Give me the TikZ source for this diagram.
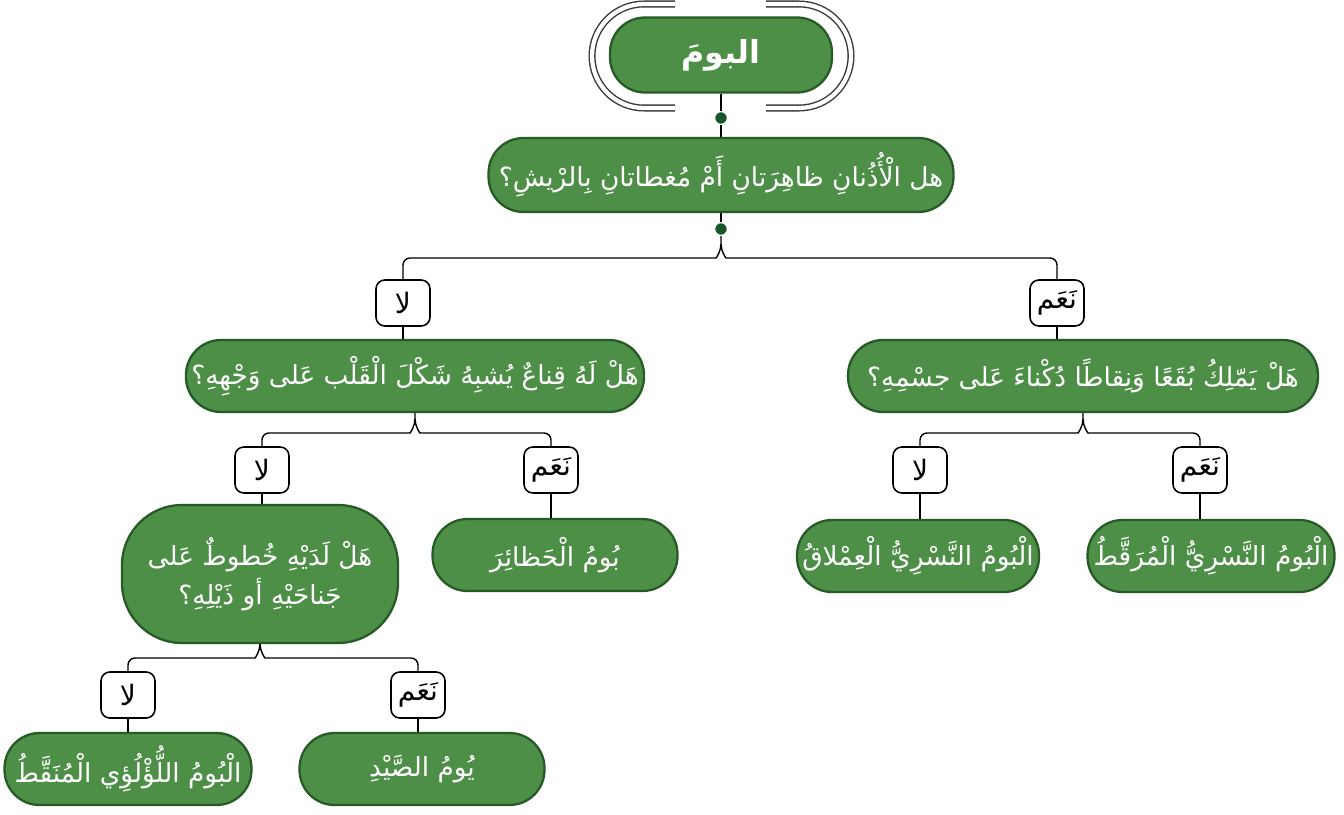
\documentclass[tikz,border=0pt]{standalone}
\usepackage{fontspec}
\newfontfamily\arabicfont[Script=Arabic]{DejaVu Sans}
\TeXXeTstate=1
\usetikzlibrary{calc}
\usetikzlibrary{positioning}

\definecolor{owlgreen}{RGB}{78,143,72}
\definecolor{owldark}{RGB}{38,90,38}
\definecolor{dotgreen}{RGB}{24,88,40}
\definecolor{framegray}{RGB}{55,55,55}

\newcommand{\artext}[1]{\beginR #1\endR}

\tikzset{
 owlbox/.style={draw=owldark, line width=1.3pt, fill=owlgreen, text=white,
   rounded corners=.7cm, minimum height=1.44cm, inner sep=3pt,
   font=\arabicfont\fontsize{15}{22}\selectfont},
 answer/.style={draw=black, line width=.9pt, fill=white, rounded corners=5pt,
   minimum width=1.08cm, minimum height=.92cm, inner sep=2pt,
   font=\arabicfont\fontsize{16}{18}\selectfont},
 link/.style={black, line width=.8pt},
 knot/.style={circle, fill=dotgreen, draw=white, line width=.8pt,
   minimum size=.26cm, inner sep=0pt},
}

\begin{document}
\begin{tikzpicture}[x=0.02cm, y=-0.02cm]
\useasboundingbox (0,0) rectangle (1344,814);

% root with its open frame
\node[owlbox, minimum width=4.44cm, minimum height=1.5cm,
  font=\arabicfont\bfseries\fontsize{18}{22}\selectfont] (root) at (721,55) {\artext{البومَ}};
\draw[framegray, line width=.8pt, double=white, double distance=2.4pt, rounded corners=1.04cm]
  (675,4) -- (592,4) -- (592,108) -- (675,108);
\draw[framegray, line width=.8pt, double=white, double distance=2.4pt, rounded corners=1.04cm]
  (766,4) -- (851,4) -- (851,108) -- (766,108);

\node[knot] (dot1) at (721,118) {};
\node[owlbox, minimum width=9.3cm, minimum height=1.48cm] (q1) at (721,175)
  {\artext{هل الْأُذُنانِ ظاهِرَتانِ أَمْ مُغطاتانِ بِالرْيشِ؟}};
\node[knot] (dot2) at (721,229) {};

% first split
\node[answer] (na1) at (403,303) {\artext{لا}};
\node[answer] (ya1) at (1057,303) {\artext{نَعَم}};
\node[owlbox, minimum width=9.0cm] (q2l) at (415,376)
  {\artext{هَلْ لَهُ قِناعٌ يُشبِهُ شَكْلَ الْقَلْب عَلى وَجْهِهِ؟}};
\node[owlbox, minimum width=9.4cm] (q2r) at (1083,376)
  {\artext{هَلْ يَمّلِكُ بُقَعًا وَنِقاطًا دُكْناءَ عَلى جسْمِهِ؟}};

% second split
\node[answer] (na2) at (262,470) {\artext{لا}};
\node[answer] (ya2) at (551,470) {\artext{نَعَم}};
\node[answer] (na3) at (920,470) {\artext{لا}};
\node[answer] (ya3) at (1200,470) {\artext{نَعَم}};
\node[owlbox, minimum width=5.52cm, minimum height=2.76cm, rounded corners=1.2cm,
  align=center] (q3l) at (260,574)
  {\artext{هَلْ لَدَيْهِ خُطوطٌ عَلى}\\ \artext{جَناحَيْهِ أو ذَيْلِهِ؟}};
\node[owlbox, minimum width=4.9cm] (barn) at (555,555) {\artext{بُومُ الْحَظائِرَ}};
\node[owlbox, minimum width=4.5cm] (giant) at (918,556) {\artext{الْبُومُ النَّسْرِيُّ الْعِمْلاقُ}};
\node[owlbox, minimum width=4.94cm] (spotted) at (1211,556) {\artext{الْبُومُ النَّسْرِيُّ الْمُرَقَّطُ}};

% third split
\node[answer] (na4) at (128,695) {\artext{لا}};
\node[answer] (ya4) at (418,695) {\artext{نَعَم}};
\node[owlbox, minimum width=4.94cm] (pearl) at (128,769) {\artext{الْبُومُ اللُّؤْلُؤِي الْمُنَقَّطُ}};
\node[owlbox, minimum width=4.9cm] (hunt) at (422,769) {\artext{يُومُ الصَّيْدِ}};

% stems
\draw[link] (root.south) -- (dot1) -- (q1.north);
\draw[link] (q1.south) -- (dot2);
\foreach \kid/\leaf in {na1/q2l, ya1/q2r, na2/q3l, ya2/barn, na3/giant, ya3/spotted, na4/pearl, ya4/hunt}
  \draw[link] (\kid.south) -- (\kid.south |- \leaf.north);

% braces
\foreach \parent/\nonode/\yesnode/\lev in {dot2/na1/ya1/258, q2l/na2/ya2/433, q2r/na3/ya3/433, q3l/na4/ya4/658}{
  \draw[link] (\nonode.north) [rounded corners=4pt]-- (\nonode.north |- 0,\lev)
    -- ($(\parent.south |- 0,\lev)+(-12,0)$) [sharp corners] to[out=0,in=-90] ($(\parent.south |- 0,\lev)+(0,-14)$)
    -- (\parent.south);
  \draw[link] (\yesnode.north) [rounded corners=4pt]-- (\yesnode.north |- 0,\lev)
    -- ($(\parent.south |- 0,\lev)+(12,0)$) [sharp corners] to[out=180,in=-90] ($(\parent.south |- 0,\lev)+(0,-14)$);
}
\end{tikzpicture}
\end{document}
